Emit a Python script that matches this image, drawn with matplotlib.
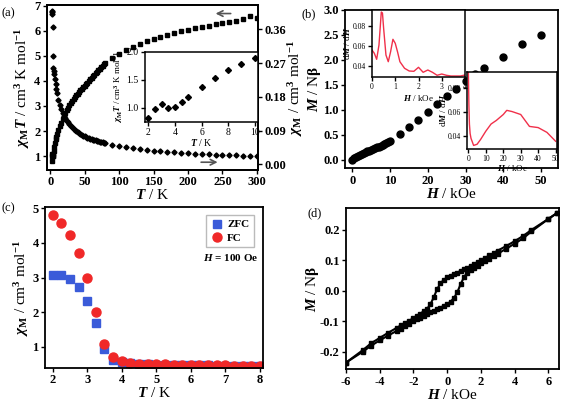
import numpy as np
import matplotlib.pyplot as plt
from matplotlib.ticker import FormatStrFormatter

plt.rcParams['font.family'] = ['Liberation Serif', 'DejaVu Serif']
plt.rcParams['font.weight'] = 'bold'
plt.rcParams['axes.unicode_minus'] = False
plt.rcParams['mathtext.fontset'] = 'custom'
plt.rcParams['mathtext.rm'] = 'Liberation Serif:bold'
plt.rcParams['mathtext.it'] = 'Liberation Serif:italic:bold'
plt.rcParams['mathtext.bf'] = 'Liberation Serif:bold'
plt.rcParams['mathtext.sf'] = 'Liberation Serif'
plt.rcParams['mathtext.tt'] = 'Liberation Serif:italic'

# (a) chiM T and chiM vs T
T_a = [2, 2.5, 3, 3.5, 4, 4.5, 5, 6, 7, 8, 9, 10,
       12, 14, 16, 18, 20, 22, 24, 26, 28, 30, 32, 34, 36, 38, 40,
       42, 44, 46, 48, 50, 52, 54, 56, 58, 60, 62, 64, 66, 68, 70,
       72, 74, 76, 78, 80, 90, 100, 110, 120, 130, 140, 150, 160, 170,
       180, 190, 200, 210, 220, 230, 240, 250, 260, 270, 280, 290, 300]
chiT_a = [0.82, 0.99, 1.07, 1.00, 1.01, 1.10, 1.19, 1.38, 1.53, 1.67, 1.78, 1.90,
          2.05, 2.20, 2.34, 2.47, 2.60, 2.71, 2.82, 2.92, 3.02, 3.11, 3.19, 3.27, 3.35, 3.42, 3.49,
          3.56, 3.62, 3.68, 3.74, 3.80, 3.86, 3.93, 4.00, 4.06, 4.12, 4.18, 4.24, 4.30, 4.36, 4.42,
          4.48, 4.54, 4.60, 4.66, 4.72, 4.92, 5.08, 5.22, 5.36, 5.48, 5.60, 5.68, 5.76, 5.84,
          5.92, 5.98, 6.04, 6.10, 6.15, 6.20, 6.25, 6.29, 6.33, 6.38, 6.45, 6.58, 6.50]
chi_a = [0.41, 0.405, 0.40, 0.365, 0.29, 0.258, 0.25, 0.24, 0.228, 0.215, 0.20, 0.19,
         0.172, 0.158, 0.147, 0.137, 0.13, 0.123, 0.117, 0.112, 0.107, 0.103, 0.099, 0.095, 0.092, 0.089, 0.086,
         0.084, 0.081, 0.079, 0.077, 0.075, 0.073, 0.071, 0.070, 0.068, 0.067, 0.066, 0.065, 0.064, 0.063, 0.062,
         0.061, 0.060, 0.059, 0.058, 0.057, 0.053, 0.049, 0.046, 0.043, 0.041, 0.039, 0.037, 0.035, 0.033,
         0.032, 0.031, 0.030, 0.029, 0.028, 0.027, 0.026, 0.025, 0.025, 0.024, 0.023, 0.023, 0.022]
T_ins = [2, 2.5, 3, 3.5, 4, 4.5, 5, 6, 7, 8, 9, 10]
chiT_ins = [0.82, 0.99, 1.07, 1.00, 1.01, 1.10, 1.19, 1.38, 1.53, 1.67, 1.78, 1.90]

# (b) M vs H
H_b = [0, 0.5, 1, 1.5, 2, 2.5, 3, 3.5, 4, 4.5, 5, 5.5, 6, 6.5, 7, 7.5, 8, 8.5, 9, 9.5, 10,
       12.5, 15, 17.5, 20, 22.5, 25, 27.5, 30, 32.5, 35, 40, 45, 50]
M_b = [0.0, 0.03, 0.055, 0.08, 0.10, 0.12, 0.14, 0.155, 0.17, 0.185, 0.20, 0.215, 0.23, 0.25,
       0.265, 0.28, 0.30, 0.32, 0.34, 0.36, 0.38,
       0.51, 0.65, 0.80, 0.95, 1.11, 1.27, 1.42, 1.57, 1.71, 1.84, 2.05, 2.31, 2.49]
H_d1 = [0, 0.1, 0.2, 0.3, 0.4, 0.45, 0.5, 0.6, 0.7, 0.8, 0.9, 1.0, 1.1, 1.2, 1.4, 1.6, 1.8,
        2.0, 2.2, 2.4, 2.6, 2.8, 3.0, 3.2, 3.4, 3.6, 3.8, 4.0]
dMdH_1 = [0.056, 0.0527, 0.0467, 0.061, 0.094, 0.093, 0.0777, 0.051, 0.0443, 0.0543, 0.0667, 0.0627,
          0.054, 0.0443, 0.0377, 0.035, 0.0347, 0.0387, 0.0337, 0.036, 0.0337, 0.0307, 0.032,
          0.0307, 0.030, 0.030, 0.030, 0.031]
H_d2 = [0, 0.3, 0.6, 1.0, 1.5, 3, 5, 7, 10, 13, 16, 20, 22, 25, 30, 32, 35, 40, 45, 50]
dMdH_2 = [0.094, 0.066, 0.05, 0.042, 0.038, 0.032, 0.033, 0.037, 0.044, 0.050, 0.053, 0.058,
          0.0615, 0.0605, 0.058, 0.054, 0.048, 0.047, 0.043, 0.0355]

# (c) ZFC / FC
T_c = [2, 2.25, 2.5, 2.75, 3, 3.25, 3.5, 3.75, 4, 4.25, 4.5, 4.75, 5, 5.25, 5.5, 5.75,
       6, 6.25, 6.5, 6.75, 7, 7.25, 7.5, 7.75, 8]
zfc = [3.07, 3.07, 2.95, 2.72, 2.33, 1.68, 0.92, 0.62, 0.55, 0.52, 0.50, 0.49, 0.48, 0.48,
       0.47, 0.47, 0.46, 0.46, 0.46, 0.45, 0.45, 0.45, 0.44, 0.44, 0.44]
fc = [4.80, 4.57, 4.22, 3.70, 2.98, 2.01, 1.08, 0.69, 0.58, 0.53, 0.51, 0.50, 0.49, 0.49,
      0.48, 0.48, 0.47, 0.47, 0.46, 0.46, 0.46, 0.45, 0.45, 0.44, 0.44]

# (d) hysteresis loop
H_dn = [6.5, 6, 5, 4.5, 4, 3.5, 3, 2.75, 2.5, 2.25, 2, 1.8, 1.6, 1.4, 1.2, 1.0, 0.8, 0.6,
        0.4, 0.2, 0, -0.2, -0.4, -0.6, -0.8, -1.0, -1.2, -1.4, -1.6, -1.8, -2.0, -2.25,
        -2.5, -2.75, -3, -3.5, -4, -4.5, -5, -6]
M_dn = [0.255, 0.236, 0.20, 0.18, 0.163, 0.147, 0.132, 0.124, 0.116, 0.108, 0.10, 0.094,
        0.088, 0.082, 0.076, 0.070, 0.065, 0.060, 0.055, 0.050, 0.044, 0.036, 0.024, 0.005,
        -0.022, -0.045, -0.060, -0.068, -0.075, -0.082, -0.090, -0.098, -0.106, -0.114,
        -0.122, -0.138, -0.155, -0.172, -0.195, -0.236]
H_up = [-6, -5, -4.5, -4, -3.5, -3, -2.75, -2.5, -2.25, -2, -1.8, -1.6, -1.4, -1.2, -1.0,
        -0.8, -0.6, -0.4, -0.2, 0, 0.2, 0.4, 0.6, 0.8, 1.0, 1.2, 1.4, 1.6, 1.8, 2.0, 2.25,
        2.5, 2.75, 3, 3.5, 4, 4.5, 5, 6, 6.5]
M_up = [-0.236, -0.20, -0.18, -0.163, -0.147, -0.132, -0.124, -0.116, -0.108, -0.10, -0.094,
        -0.088, -0.082, -0.076, -0.070, -0.065, -0.060, -0.055, -0.050, -0.044, -0.036,
        -0.024, -0.005, 0.022, 0.045, 0.060, 0.068, 0.075, 0.082, 0.090, 0.098, 0.106,
        0.114, 0.122, 0.138, 0.155, 0.172, 0.195, 0.236, 0.255]

W, Hh = 563, 401


def rect(x0, y0, x1, y1):
    return [x0 / W, 1 - y1 / Hh, (x1 - x0) / W, (y1 - y0) / Hh]


def style(ax, size=9, width=1.3):
    for s in ax.spines.values():
        s.set_linewidth(width)
    ax.tick_params(direction='out', length=3, width=1, labelsize=size, pad=1.5)


fig = plt.figure(figsize=(5.63, 4.01), dpi=100)

# ---- (a)
ax = fig.add_axes(rect(46.7, 5, 258.3, 170))
ax.plot(T_a, chiT_a, 's', color='black', ms=2.4)
ax.set_xlim(-5, 302)
ax.set_ylim(0.45, 7.02)
ax.set_xticks(np.arange(0, 301, 50))
ax.set_yticks(range(1, 8))
ax.set_xlabel('$T$ / K', fontsize=11, labelpad=0)
ax.set_ylabel(r'$\chi_{\rm M}T$ / cm$^3$ K mol$^{-1}$', fontsize=11)
ax.yaxis.set_label_coords(-0.07, 0.5)
style(ax)
ax2 = ax.twinx()
ax2.plot(T_a, chi_a, 'D', color='black', ms=2.6)
ax2.set_ylim(-0.015, 0.425)
ax2.set_yticks([0, 0.09, 0.18, 0.27, 0.36])
ax2.yaxis.set_major_formatter(FormatStrFormatter('%.2f'))
ax2.set_ylabel(r'$\chi_{\rm M}$ / cm$^3$ mol$^{-1}$', fontsize=11)
ax2.yaxis.set_label_coords(1.13, 0.5)
style(ax2)
ax.annotate('', xy=(236, 6.68), xytext=(266, 6.68),
            arrowprops=dict(arrowstyle='->', color='#555555', lw=1.2))
ax.annotate('', xy=(247, 0.76), xytext=(215, 0.76),
            arrowprops=dict(arrowstyle='->', color='#555555', lw=1.2))
fig.text(2 / W, 1 - 13 / Hh, '(a)', fontsize=9, fontweight='normal', va='center')

axi = fig.add_axes(rect(145, 52, 258, 122))
axi.plot(T_ins, chiT_ins, 'D', color='black', ms=3)
axi.set_xlim(1.75, 10.25)
axi.set_ylim(0.75, 2.0)
axi.set_xticks([2, 4, 6, 8, 10])
axi.set_yticks([1.0, 1.5, 2.0])
axi.yaxis.set_major_formatter(FormatStrFormatter('%.1f'))
for t in axi.get_xticklabels() + axi.get_yticklabels():
    t.set_fontweight('normal')
axi.set_xlabel(r'$\mathtt{T}$ / K', fontsize=7, fontweight='normal', labelpad=0)
axi.set_ylabel(r'$\mathtt{\chi}_\mathsf{M}\mathtt{T}$ / cm$^\mathsf{3}$ K mol$^\mathsf{-1}$',
               fontsize=6.5, fontweight='normal', labelpad=1)
style(axi, size=7, width=1.1)

# ---- (b)
bx = fig.add_axes(rect(345, 10, 558, 168.3))
bx.plot(H_b, M_b, 'o', color='black', ms=5)
bx.set_xlim(-1.95, 54.5)
bx.set_ylim(-0.167, 3.0)
bx.set_xticks(range(0, 51, 10))
bx.set_yticks(np.arange(0, 3.01, 0.5))
bx.yaxis.set_major_formatter(FormatStrFormatter('%.1f'))
bx.set_xlabel('$H$ / kOe', fontsize=11, labelpad=0)
bx.set_ylabel(r'$M$ / N$\mathrm{\beta}$', fontsize=11)
bx.yaxis.set_label_coords(-0.105, 0.5)
style(bx)
fig.text(301 / W, 1 - 14 / Hh, '(b)', fontsize=9, fontweight='normal', va='center')

bi1 = fig.add_axes(rect(372, 10, 465, 77))
bi1.plot(H_d1, dMdH_1, '-', color='#f0304a', lw=1)
bi1.set_xlim(0, 4)
bi1.set_ylim(0.029, 0.096)
bi1.set_xticks([0, 1, 2, 3, 4])
bi1.set_yticks([0.04, 0.06, 0.08])
for t in bi1.get_xticklabels() + bi1.get_yticklabels():
    t.set_fontweight('normal')
bi1.set_xlabel(r'$\mathtt{H}$ / kOe', fontsize=6.5, fontweight='normal', labelpad=1)
bi1.set_ylabel(r'd$\mathtt{M}$ / d$\mathtt{H}$', fontsize=6.5, fontweight='normal', labelpad=0)
style(bi1, size=5.5, width=1.1)

bi2 = fig.add_axes(rect(467.5, 71.7, 556.5, 149))
bi2.plot(H_d2, dMdH_2, '-', color='#f0304a', lw=1)
bi2.set_xlim(-0.5, 50.5)
bi2.set_ylim(0.029, 0.094)
bi2.set_xticks(range(0, 51, 10))
bi2.set_yticks([0.04, 0.06, 0.08])
for t in bi2.get_xticklabels() + bi2.get_yticklabels():
    t.set_fontweight('normal')
bi2.set_xlabel(r'$\mathtt{H}$ / kOe', fontsize=6.5, fontweight='normal', labelpad=0)
bi2.set_ylabel(r'd$\mathtt{M}$ / d$\mathtt{H}$', fontsize=6.5, fontweight='normal', labelpad=0)
style(bi2, size=5.5, width=1.1)

# ---- (c)
cx = fig.add_axes(rect(45, 207.3, 262.7, 368))
cx.plot(T_c, zfc, 's', color='#3a5bd9', ms=6, label='ZFC')
cx.plot(T_c, fc, 'o', color='#f02828', ms=6.5, label='FC')
cx.set_xlim(1.78, 8.08)
cx.set_ylim(0.385, 5.03)
cx.set_xticks(range(2, 9))
cx.set_yticks(range(1, 6))
cx.set_xlabel('$T$ / K', fontsize=11, labelpad=0)
cx.set_ylabel(r'$\chi_{\rm M}$ / cm$^3$ mol$^{-1}$', fontsize=11)
cx.yaxis.set_label_coords(-0.065, 0.5)
leg = cx.legend(loc='upper right', fontsize=8, frameon=True, fancybox=False,
                edgecolor='#aaaaaa', handletextpad=0.3, borderpad=0.4, labelspacing=0.3,
                handlelength=1.2, bbox_to_anchor=(0.985, 0.985))
cx.text(0.98, 0.69, '$H$ = 100 Oe', transform=cx.transAxes, ha='right', va='center', fontsize=8)
style(cx)
fig.text(2 / W, 1 - 208 / Hh, '(c)', fontsize=9, fontweight='normal', va='center')

# ---- (d)
dx = fig.add_axes(rect(346, 208.3, 559.3, 369.3))
dx.plot(H_dn, M_dn, 's-', color='black', ms=3, lw=1.5)
dx.plot(H_up, M_up, 's-', color='black', ms=3, lw=1.5)
dx.set_xlim(-6, 6.65)
dx.set_ylim(-0.258, 0.271)
dx.set_xticks(range(-6, 7, 2))
dx.set_yticks([-0.2, -0.1, 0.0, 0.1, 0.2])
dx.yaxis.set_major_formatter(FormatStrFormatter('%.1f'))
dx.set_xlabel('$H$ / kOe', fontsize=11, labelpad=0)
dx.set_ylabel(r'$M$ / N$\mathrm{\beta}$', fontsize=11)
dx.yaxis.set_label_coords(-0.115, 0.5)
style(dx)
fig.text(308 / W, 1 - 213 / Hh, '(d)', fontsize=9, fontweight='normal', va='center')

fig.savefig('out.png', dpi=100)
